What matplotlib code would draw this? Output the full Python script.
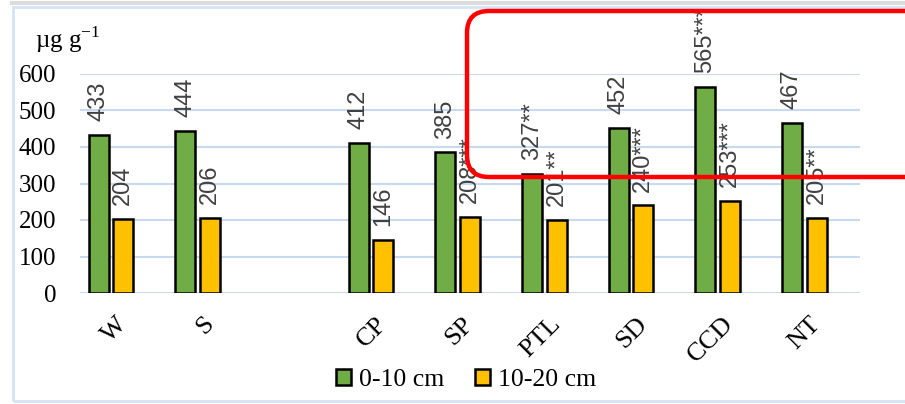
import matplotlib.pyplot as plt
from matplotlib.patches import FancyBboxPatch, Rectangle
from matplotlib.lines import Line2D
from matplotlib.transforms import IdentityTransform

# treatments (slot 2 is an empty category in the original chart)
categories = ['W', 'S', '', 'CP', 'SP', 'PTL', 'SD', 'CCD', 'NT']
slots = [0, 1, 3, 4, 5, 6, 7, 8]
names = ['W', 'S', 'CP', 'SP', 'PTL', 'SD', 'CCD', 'NT']
depth_0_10 = [433, 444, 412, 385, 327, 452, 565, 467]
depth_10_20 = [204, 206, 146, 208, 201, 240, 253, 205]
sig_0_10 = ['', '', '', '', '**', '', '***', '']
sig_10_20 = ['', '', '', '***', '**', '***', '***', '**']
series_names = ['0-10 cm', '10-20 cm']

serif = 'Liberation Serif'
W, H = 905, 404
fig = plt.figure(figsize=(W / 100, H / 100), dpi=100)
ax = fig.add_axes([80 / W, 111 / H, 780 / W, 219 / H])

green = '#70AD47'
yellow = '#FFC000'
bw = 0.23
b1 = ax.bar([s - 0.285 for s in slots], depth_0_10, width=bw, color=green,
            edgecolor='black', linewidth=1.8, label=series_names[0], zorder=3)
b2 = ax.bar([s + 0.0 for s in slots], depth_10_20, width=bw, color=yellow,
            edgecolor='black', linewidth=1.8, label=series_names[1], zorder=3)

for bars, vals, sig in [(b1, depth_0_10, sig_0_10), (b2, depth_10_20, sig_10_20)]:
    for rect, v, s in zip(bars, vals, sig):
        ax.annotate(f'{v}{s}', (rect.get_x() + rect.get_width() / 2, v),
                    xytext=(0, 10), textcoords='offset points', rotation=90,
                    ha='center', va='bottom', fontsize=17, color='#404040',
                    family='Liberation Sans', annotation_clip=False, zorder=4)

ax.set_xlim(-0.5, 8.5)
ax.set_ylim(0, 600)
ax.set_yticks(range(0, 601, 100))
ax.set_xticks(range(len(categories)))
ax.set_xticklabels(categories, rotation=45, ha='right', va='center',
                   rotation_mode='anchor', family=serif, fontsize=19)
for lab in ax.get_yticklabels():
    lab.set_family(serif)
    lab.set_fontsize(18)
ax.tick_params(axis='both', length=0)
ax.tick_params(axis='y', pad=17)
ax.tick_params(axis='x', pad=20)
ax.grid(axis='y', color='#c9d9ef', linewidth=1.5, zorder=0)
for sp in ax.spines.values():
    sp.set_visible(False)

fig.text(35 / W, 1 - 40 / H, r'µg g$^{\mathregular{-1}}$', family=serif,
         fontsize=18, va='center', ha='left')

leg = fig.legend(handles=[b1, b2], loc='center', bbox_to_anchor=(466 / W, 1 - 380 / H),
                 ncol=2, frameon=False, prop={'family': serif, 'size': 18.5},
                 handlelength=0.6, handleheight=0.6, handletextpad=0.3,
                 columnspacing=1.2)

# outer frame and top line
fig.add_artist(Rectangle((12.5, 3), 1000, 394, transform=IdentityTransform(),
                         fill=False, edgecolor='#d6e3f4', linewidth=2))
fig.add_artist(Line2D([12, W], [401, 401], transform=IdentityTransform(),
                      color='#dcdcdc', linewidth=3))

# red highlight box
fig.add_artist(FancyBboxPatch((467, H - 177), 600, 166, transform=IdentityTransform(),
                              boxstyle='round,pad=0,rounding_size=22', fill=False,
                              edgecolor='#ff0000', linewidth=3.2, zorder=10))

fig.savefig('out.png', dpi=100)
